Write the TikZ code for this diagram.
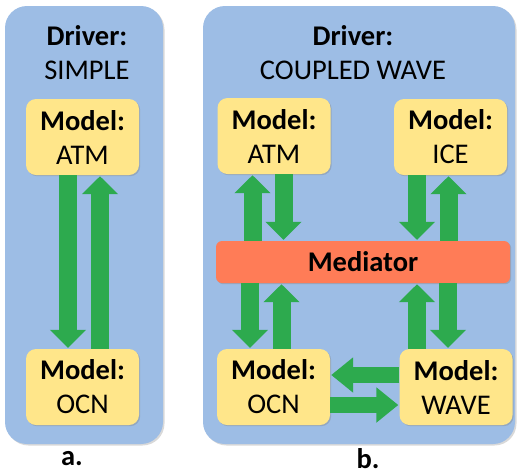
\documentclass[tikz,border=0pt]{standalone}
\usepackage{fontspec}
\setmainfont{Carlito}
\usetikzlibrary{arrows.meta,shadows}
\definecolor{panelblue}{HTML}{9DBDE5}
\definecolor{modelyellow}{HTML}{FFE68A}
\definecolor{medorange}{HTML}{FF7C57}
\definecolor{arrowgreen}{HTML}{2DAA4E}
\begin{document}
\begin{tikzpicture}[x=1pt,y=-1pt,
  every node/.style={font=\fontsize{28.5}{34}\selectfont, inner sep=0pt},
  panel/.style={fill=panelblue, rounded corners=22pt, drop shadow={shadow xshift=1.5pt, shadow yshift=-1.5pt, opacity=0.3}},
  modelbox/.style={fill=modelyellow, rounded corners=10pt, minimum width=113pt, minimum height=76pt, align=center,
    drop shadow={shadow xshift=1.2pt, shadow yshift=-1.2pt, opacity=0.35}},
  medbox/.style={fill=medorange, rounded corners=6pt, minimum width=294pt, minimum height=42pt,
    drop shadow={shadow xshift=1.2pt, shadow yshift=-1.2pt, opacity=0.35}},
  fatv/.style={draw=arrowgreen, line width=18pt, -{Triangle[width=35pt,length=18pt]}, shorten >=1pt},
  fath/.style={draw=arrowgreen, line width=16pt, -{Triangle[width=34pt,length=22pt]}, shorten >=1pt},
  lbl/.style={font=\fontsize{28.5}{34}\selectfont\bfseries}
]
\useasboundingbox (0,0) rectangle (517,475);
% panels
\node[panel, minimum width=158pt, minimum height=438pt] (pa) at (84,225) {};
\node[panel, minimum width=312pt, minimum height=438pt] (pb) at (359,225) {};
% driver titles
\node[align=center] (da) at (87,53) {\textbf{Driver:}\\SIMPLE};
\node[align=center] (db) at (353,53) {\textbf{Driver:}\\COUPLED WAVE};
% panel a models
\node[modelbox] (atmA) at (82.5,137) {\textbf{Model:}\\ATM};
\node[modelbox] (ocnA) at (82.5,387) {\textbf{Model:}\\OCN};
% panel b models
\node[modelbox] (atmB) at (274,136) {\textbf{Model:}\\ATM};
\node[modelbox] (iceB) at (450.5,137) {\textbf{Model:}\\ICE};
\node[modelbox] (ocnB) at (273.5,387) {\textbf{Model:}\\OCN};
\node[modelbox] (waveB) at (456,387) {\textbf{Model:}\\WAVE};
\node[medbox] (med) at (363,262) {\textbf{Mediator}};
% labels
\node[lbl] (la) at (72,459) {a.};
\node[lbl] (lb) at (368,459) {b.};
% arrow columns
\coordinate (ca1) at (68,0);
\coordinate (ca2) at (100,0);
\coordinate (cb1) at (252.5,0);
\coordinate (cb2) at (283.5,0);
\coordinate (cb3) at (417,0);
\coordinate (cb4) at (448.5,0);
\coordinate (cb5) at (250,0);
\coordinate (cb6) at (281.5,0);
\coordinate (cb7) at (417,0);
\coordinate (cb8) at (448,0);
\coordinate (rh1) at (0,375);
\coordinate (rh2) at (0,405);
% panel a arrows
\draw[fatv] (ca1 |- atmA.south) -- (ca1 |- ocnA.north);
\draw[fatv] (ca2 |- ocnA.north) -- (ca2 |- atmA.south);
% panel b upper arrows
\draw[fatv] (cb1 |- med.north) -- (cb1 |- atmB.south);
\draw[fatv] (cb2 |- atmB.south) -- (cb2 |- med.north);
\draw[fatv] (cb3 |- iceB.south) -- (cb3 |- med.north);
\draw[fatv] (cb4 |- med.north) -- (cb4 |- iceB.south);
% panel b lower arrows
\draw[fatv] (cb5 |- med.south) -- (cb5 |- ocnB.north);
\draw[fatv] (cb6 |- ocnB.north) -- (cb6 |- med.south);
\draw[fatv] (cb7 |- waveB.north) -- (cb7 |- med.south);
\draw[fatv] (cb8 |- med.south) -- (cb8 |- waveB.north);
% horizontal arrows
\draw[fath] (waveB.west |- rh1) -- (ocnB.east |- rh1);
\draw[fath] (ocnB.east |- rh2) -- (waveB.west |- rh2);
\end{tikzpicture}
\end{document}
